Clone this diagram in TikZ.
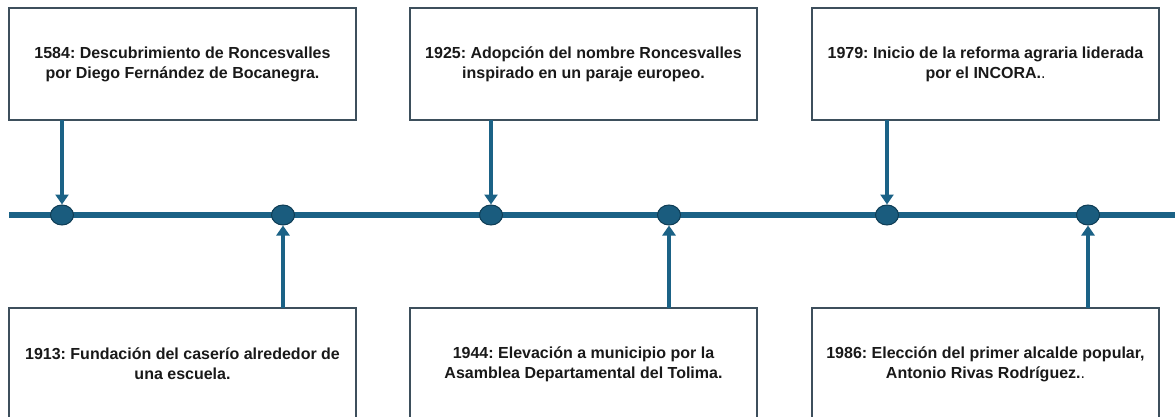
\documentclass[tikz,border=0pt]{standalone}
\usepackage{fontspec}
\setmainfont{Liberation Sans}
\usetikzlibrary{arrows.meta}
\usetikzlibrary{positioning}
\usetikzlibrary{shapes.geometric}
\frenchspacing

\definecolor{lineblue}{HTML}{1B6286}
\definecolor{dotblue}{HTML}{1A5C7E}
\definecolor{dotedge}{HTML}{0F3D55}
\definecolor{boxedge}{HTML}{3D4F5C}

\tikzset{
  event/.style={draw=boxedge, line width=1.2pt, minimum width=347pt, minimum height=112pt,
    inner sep=0pt, outer sep=0pt, align=center, text=black!90,
    font=\fontsize{16}{20}\selectfont\bfseries},
  yeardot/.style={ellipse, fill=dotblue, draw=dotedge, line width=1pt,
    minimum width=23pt, minimum height=20pt, inner sep=0pt},
  link/.style={-{Triangle[length=10pt,width=13pt]}, draw=lineblue, line width=3.5pt},
}

\begin{document}
\begin{tikzpicture}[x=1pt,y=-1pt]
  \useasboundingbox (0,0) rectangle (1175,417);

  \node[event] (t1584) at (182.5,64) {1584: Descubrimiento de Roncesvalles\\por Diego Fernández de Bocanegra.};
  \node[event] (t1925) [right=54pt of t1584] {1925: Adopción del nombre Roncesvalles\\inspirado en un paraje europeo.};
  \node[event] (t1979) [right=55pt of t1925] {1979: Inicio de la reforma agraria liderada\\por el INCORA.{\mdseries.}};

  \node[event] (t1913) [below=188pt of t1584] {1913: Fundación del caserío alrededor de\\una escuela.};
  \node[event] (t1944) [below=188pt of t1925] {1944: Elevación a municipio por la\\Asamblea Departamental del Tolima.};
  \node[event] (t1986) [below=188pt of t1979] {1986: Elección del primer alcalde popular,\\Antonio Rivas Rodríguez.{\mdseries.}};

  % timeline
  \coordinate (lstart) at (9,215);
  \coordinate (lend) at (1180,215);
  \draw[lineblue, line width=6pt] (lstart) -- (lend);

  \node[yeardot] (d1584) at (62,215) {};
  \node[yeardot] (d1913) at (283,215) {};
  \node[yeardot] (d1925) at (491,215) {};
  \node[yeardot] (d1944) at (669,215) {};
  \node[yeardot] (d1979) at (887,215) {};
  \node[yeardot] (d1986) at (1088,215) {};

  \draw[link] (d1584 |- t1584.south) -- (d1584);
  \draw[link] (d1925 |- t1925.south) -- (d1925);
  \draw[link] (d1979 |- t1979.south) -- (d1979);
  \draw[link] (d1913 |- t1913.north) -- (d1913);
  \draw[link] (d1944 |- t1944.north) -- (d1944);
  \draw[link] (d1986 |- t1986.north) -- (d1986);
\end{tikzpicture}
\end{document}
